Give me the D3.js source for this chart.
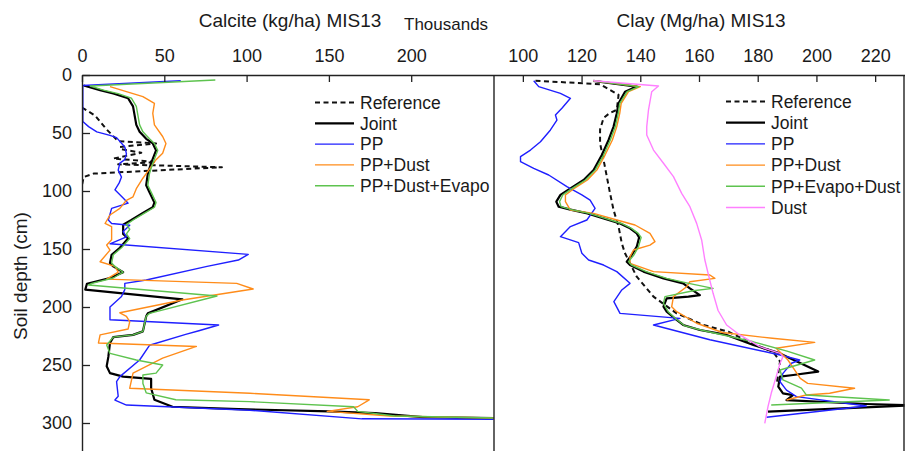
<!DOCTYPE html>
<html>
<head>
<meta charset="utf-8">
<script src="https://cdn.jsdelivr.net/npm/d3@7"></script>
<style>
  body { margin: 0; background: #fff; }
  svg { display: block; font-family: "Liberation Sans", Arial, sans-serif; }
</style>
</head>
<body>
<svg id="chart" width="905" height="451"></svg>
<script>
// Each profile is a list of [depth (cm), value] pairs.

// Calcite, thousands of kg/ha
const calciteReference = [[28,0],[35,8],[47,15],[57,22],[59,45],[62,23],[64,24],[67,36],[72,19],[75,45],[77,22],[79.5,85],[85,7],[88,1],[95,0],[110,0]];
const calciteJoint = [[9,1],[13,11],[16,19],[20,28],[27,31],[43,33],[49,35],[55,39],[59,43],[65,45],[76,42],[85,40],[95,39],[101,41],[110,44],[114,43],[119,37],[125,30],[129,25],[137,25],[141,28],[149,23],[155,18],[162,17],[165,19],[170,25],[175,17],[180,3],[185,2],[193.4,61],[205.5,40],[208,39],[221,37],[224,31],[226,19],[231,17],[243,16],[251,15],[257,17],[260,25],[262,42],[270,42],[280,44],[286,55],[288,95],[290,150],[291.5,178],[295,207],[296,260]];
const calcitePP = [[5,60],[9,0.5],[40,0.5],[44.5,4],[49,9],[52,17],[54,21],[62,26],[68,27],[73,26],[76,23],[82,22],[88,24],[93,22.6],[99,20],[106,25],[110.5,28],[115,18],[125,16],[128,18],[129.5,29],[135,25],[139.5,27],[145.5,17],[154.6,101],[159.5,95],[165,76],[176.7,39],[179.6,26],[185,26],[191,24],[200,17],[211,17],[215.5,83],[220.5,71],[223.6,63],[233,41],[245.7,35],[260,23],[264.3,21],[277,22],[280.2,20],[284.5,27],[289,102],[296.4,170],[296.8,260]];
const calciteDust = [[10,17],[18.7,37],[24.4,44],[33,43],[43,44],[53,49],[59,51],[67.5,49],[73,45],[85,39],[89,37],[98,33],[105,31],[108,27],[115,23],[120.7,17],[128,14],[130.7,18],[142,18],[146.6,15],[151,17],[161,11],[165,20],[170,22],[176,15],[179.6,94],[184.5,104],[194,61],[205,23],[208,27],[212.7,29],[219,28],[224,11],[231,10],[234,69.5],[244,49],[257,31],[270,29],[274.4,102],[280,174.5],[286,167.5],[290,149],[294,187],[296,260]];
const calciteDustEvapo = [[4.3,81],[9.5,5],[13,13],[16,22],[20,30],[27,33],[43,35],[49,37],[55,41],[59,44],[65,46],[76,43],[85,41],[95,40],[101,42],[110,45],[114,44],[119,38],[125,31],[129,27],[133,29],[137,27],[141,29],[149,24],[155,19],[162,18],[165,20],[170,25],[175,19],[179.6,6],[181,4],[190.5,82],[205.5,41],[208,39],[221,37],[224,31],[226,19],[232.8,15],[240,17],[245.7,33],[250,49],[257,45],[258.6,37],[266,37],[274,39],[280,57],[281.6,102],[286,165],[290,167.5],[294,190],[296,260]];

// Clay, Mg/ha
const clayReference = [[4.9,104.3],[8,126.3],[17.2,132.6],[30,132],[33,129.5],[37,127.5],[47,126.3],[59,126.3],[73.3,127.5],[87.6,128.6],[102,129.7],[116.4,130.9],[130.7,132.6],[145.1,133.7],[153.7,134.8],[173.9,138.8],[191.1,144.5],[205.5,152.4],[215.5,161.5],[221.3,170],[231.3,178],[238.5,185.2],[247,187.6],[266,186.5]];
const clayJoint = [[5,124],[10,138.8],[14.4,134.8],[24.4,132.6],[33,132],[44.5,130.9],[56,129.2],[69,126.9],[82,124.1],[90.5,120.7],[97.7,116.2],[103.4,112.8],[109.2,111.4],[113.5,112.2],[116,116.2],[119.3,122],[123.6,127.5],[128,133.1],[132.2,136.5],[136.5,138.8],[140,139.6],[148,138.8],[155.2,137.1],[160.9,135.4],[163.8,136.5],[169.5,141.1],[175.3,147.9],[179.6,154.6],[183.9,156.9],[189.7,160.3],[191.1,156.4],[192.5,149],[199.7,147.9],[204,149],[211.2,152.4],[215.5,154.6],[219.8,160.3],[224.1,169.4],[232.8,178.5],[240,187.6],[242.8,189.9],[255.7,200.6],[258.6,192.1],[260,187.6],[268.7,187],[274.4,188.6],[275.9,192],[280.2,189.8],[283.6,216.9],[284.8,232],[290.2,183.5]];
const clayPP = [[4.9,103.7],[10,105.4],[15.8,112.8],[20.1,116.2],[28.7,113.3],[34.5,111.1],[38.8,111.6],[47.4,109.4],[57.5,106],[64.7,102.6],[70.4,99.2],[74.7,99.2],[80.5,103.7],[86.2,108.8],[96.3,115],[103.4,120.1],[107.8,122.9],[115,124.6],[125,121.8],[130.7,116.2],[139.4,112.8],[144.5,119],[153.7,120.1],[159.5,122.4],[163.8,127.5],[169.5,132],[179.6,136.5],[185.3,133.7],[195.4,131],[205.5,133.1],[209.8,153.5],[215.5,144.5],[228.2,163.7],[241.4,187.6],[245.7,194.3],[248.5,191.5],[257.2,188.6],[264.4,187.6],[271.6,189.8],[277.3,193.2],[285.3,217],[295,183]];
const clayDust = [[5,124],[10,140],[14.4,136],[24.4,133.5],[33,133],[44.5,132],[56,130.5],[69,128],[82,125.2],[90.5,122],[97.7,117.5],[103.4,114.5],[109.2,114.5],[116.4,116.2],[119.3,124.1],[125,132],[129.3,138.2],[136.5,143.3],[143.7,145],[146.6,143.3],[150.9,137.7],[156.6,136.5],[162.4,136.5],[169.5,144.5],[172.4,163.7],[175.3,165.4],[178.2,156.9],[182.5,155.8],[191.1,151.3],[199.7,150.7],[204,152.4],[214,159.2],[222,168],[227,185],[230.5,199.4],[235.6,186.3],[245.7,190.3],[261.5,194.5],[265.8,197],[270,213],[274.4,204.5],[275.9,196.5],[280.2,189.8]];
const clayEvapoDust = [[5,124],[10,139.5],[14.4,135.5],[24.4,133],[33,132.5],[44.5,131.5],[56,129.8],[69,127.5],[82,124.6],[90.5,121.3],[97.7,116.8],[103.4,113.6],[109.2,112.5],[113.5,113],[116,116.5],[119.3,122.5],[123.6,128],[128,133.6],[132.2,137],[136.5,139.3],[140,140.3],[148,139.4],[155.2,137.8],[160.9,136],[163.8,137],[169.5,142],[175.3,149],[179.6,156.5],[183.9,164.8],[186,158],[191.1,148.4],[197,147.9],[204,149.5],[211,152.5],[216,155],[220,161],[230,178.5],[238,190],[245.7,199.4],[254.3,187.6],[262.9,188.6],[270,194.9],[275.9,196.6],[280.2,224.8],[284.5,184.6]];
const clayDustOnly = [[4.9,124],[9.5,146.2],[14.4,143.9],[30,142.8],[44.5,142.2],[51.7,142.2],[64.7,144.5],[76.1,147.9],[87.6,151.3],[102,154.1],[113.5,156.9],[127.9,159.2],[142.2,160.9],[159.5,162],[171,163.1],[188.2,164.8],[203,166.5],[215.5,169.4],[224.1,173.9],[234.2,180.7],[240,187.6],[242.8,188.6],[248.5,187.6],[260,186.3],[274.4,184.6],[285.9,183.5],[300.3,182.4]];

// Axis ticks
const depthTicks = [0, 50, 100, 150, 200, 250, 300];
const calciteTicks = [0, 50, 100, 150, 200];
const clayTicks = [100, 120, 140, 160, 180, 200, 220];

// Line styles
const styles = {
  reference: { color: "#111", width: 2, dash: "5,3.5" },
  joint:     { color: "#000", width: 2.2, dash: null },
  pp:        { color: "#1f1fff", width: 1.4, dash: null },
  dust:      { color: "#ff8c1a", width: 1.4, dash: null },
  evapo:     { color: "#5ec34f", width: 1.4, dash: null },
  dustOnly:  { color: "#ff80ff", width: 1.4, dash: null }
};

const calciteSeries = [
  { name: "Reference",     data: calciteReference, style: styles.reference },
  { name: "Joint",         data: calciteJoint,     style: styles.joint },
  { name: "PP",            data: calcitePP,        style: styles.pp },
  { name: "PP+Dust",       data: calciteDust,      style: styles.dust },
  { name: "PP+Dust+Evapo", data: calciteDustEvapo, style: styles.evapo }
];
const claySeries = [
  { name: "Reference",     data: clayReference, style: styles.reference },
  { name: "Joint",         data: clayJoint,     style: styles.joint },
  { name: "PP",            data: clayPP,        style: styles.pp },
  { name: "PP+Dust",       data: clayDust,      style: styles.dust },
  { name: "PP+Evapo+Dust", data: clayEvapoDust, style: styles.evapo },
  { name: "Dust",          data: clayDustOnly,  style: styles.dustOnly }
];

const svg = d3.select("#chart");
const ink = "#1a1a1a";

const y = d3.scaleLinear().domain([0, 325]).range([75, 452]);
const xCal = d3.scaleLinear().domain([0, 250]).range([82, 493.5]);
const xClay = d3.scaleLinear().domain([90, 230]).range([493.5, 904.5]);

function styleAxis(g, size) {
  g.attr("font-family", null).attr("font-size", null);
  g.selectAll(".domain").attr("stroke", "#222").attr("stroke-width", 1.4);
  g.selectAll(".tick line").attr("stroke", "#222").attr("stroke-width", 1.3);
  g.selectAll(".tick text").attr("fill", ink).style("font-size", size + "px");
}

function drawPanel(id, x, series, ticks, legend) {
  const [x0, x1] = x.range();
  const [y0, y1] = y.range();

  svg.append("clipPath").attr("id", id)
    .append("rect").attr("x", x0).attr("y", y0).attr("width", x1 - x0).attr("height", y1 - y0);

  const line = d3.line().x(d => x(d[1])).y(d => y(d[0]));
  const lines = svg.append("g").attr("clip-path", `url(#${id})`);
  series.forEach(s => {
    lines.append("path")
      .datum(s.data)
      .attr("d", line)
      .attr("fill", "none")
      .attr("stroke", s.style.color)
      .attr("stroke-width", s.style.width)
      .attr("stroke-dasharray", s.style.dash)
      .attr("stroke-linejoin", "round");
  });

  // top value axis with inward ticks
  svg.append("g")
    .attr("transform", `translate(0,${y(0)})`)
    .call(d3.axisTop(x).tickValues(ticks).tickSize(-7).tickSizeOuter(0).tickPadding(13).tickFormat(d3.format("d")))
    .call(g => styleAxis(g, 18));

  // legend
  const lg = svg.append("g");
  series.forEach((s, i) => {
    const ly = legend.y + i * legend.step;
    lg.append("line")
      .attr("x1", legend.x).attr("x2", legend.x + legend.len)
      .attr("y1", ly).attr("y2", ly)
      .attr("stroke", s.style.color)
      .attr("stroke-width", s.style.width)
      .attr("stroke-dasharray", s.style.dash);
    lg.append("text")
      .attr("x", legend.x + legend.len + 6)
      .attr("y", ly)
      .attr("dy", "0.36em")
      .attr("fill", ink)
      .style("font-size", "17.5px")
      .text(s.name);
  });
}

drawPanel("clip-calcite", xCal, calciteSeries, calciteTicks, { x: 315, y: 102.5, step: 20.8, len: 39 });
drawPanel("clip-clay", xClay, claySeries, clayTicks, { x: 726, y: 101.5, step: 21.2, len: 39 });

// depth axis on the left
svg.append("g")
  .attr("transform", `translate(${xCal(0)},0)`)
  .call(d3.axisLeft(y).tickValues(depthTicks).tickSize(-8).tickSizeOuter(0).tickPadding(10))
  .call(g => styleAxis(g, 18));

// panel frames
svg.append("g")
  .attr("transform", `translate(${xCal.range()[1]},0)`)
  .call(d3.axisRight(y).tickValues([]).tickSizeOuter(0))
  .call(g => styleAxis(g, 18));
svg.append("g")
  .attr("transform", `translate(${xClay.range()[1] - 1},0)`)
  .call(d3.axisRight(y).tickValues([]).tickSizeOuter(0))
  .call(g => styleAxis(g, 18));

// titles
svg.append("text").attr("x", 290).attr("y", 27).attr("text-anchor", "middle")
  .attr("fill", ink).style("font-size", "19px").text("Calcite (kg/ha) MIS13");
svg.append("text").attr("x", 404).attr("y", 30)
  .attr("fill", ink).style("font-size", "17px").text("Thousands");
svg.append("text").attr("x", 701).attr("y", 27).attr("text-anchor", "middle")
  .attr("fill", ink).style("font-size", "19px").text("Clay (Mg/ha) MIS13");
svg.append("text")
  .attr("transform", `translate(27,${276}) rotate(-90)`)
  .attr("text-anchor", "middle")
  .attr("fill", ink).style("font-size", "19px").text("Soil depth (cm)");
</script>
</body>
</html>
